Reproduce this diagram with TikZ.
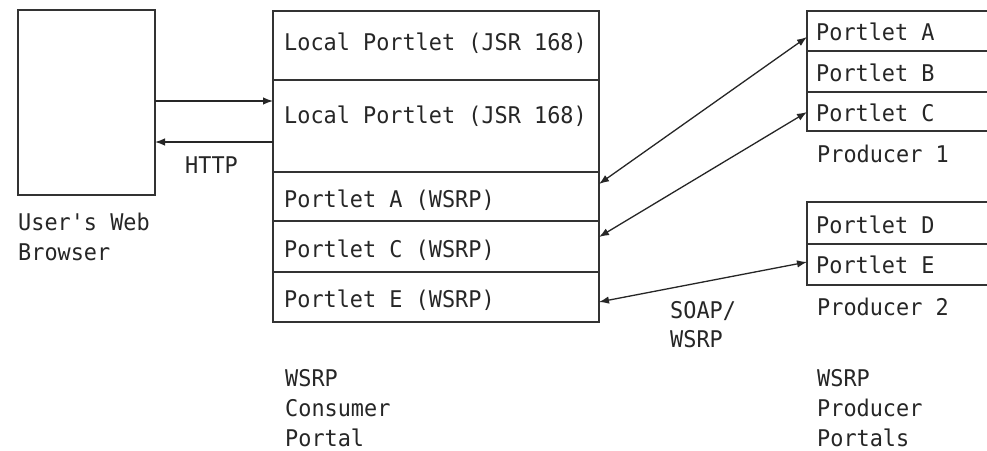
\documentclass[tikz,border=0pt]{standalone}
\usepackage{fontspec}
\newfontfamily\diagmono[FakeStretch=0.95]{DejaVu Sans Mono}
\usetikzlibrary{arrows.meta}
\begin{document}
\begin{tikzpicture}[x=1pt,y=-1pt,
  box/.style={draw=black!80,line width=1.4pt,inner sep=0pt,outer sep=0pt},
  lbl/.style={anchor=base west,inner sep=0pt,text=black!85,font=\diagmono\fontsize{23}{30}\selectfont},
  arr/.style={draw=black!85,line width=1.3pt,-{Latex[length=10pt,width=7.5pt]}},
  darr/.style={draw=black!85,line width=1.3pt,{Latex[length=10pt,width=7.5pt]}-{Latex[length=10pt,width=7.5pt]}}]
\useasboundingbox[fill=white] (0,0) rectangle (987,450);
% browser
\node[box,minimum width=137pt,minimum height=185pt,anchor=north west] (browser) at (18,10) {};
\node[lbl] (bl1) at (18,230) {User's Web};
\node[lbl] (bl2) at (18,260) {Browser};
% consumer rows
\node[box,minimum width=326pt,minimum height=69pt,anchor=north west] (lp1) at (273,11) {};
\node[box,minimum width=326pt,minimum height=92pt,anchor=north west] (lp2) at (273,80) {};
\node[box,minimum width=326pt,minimum height=49pt,anchor=north west] (ca) at (273,172) {};
\node[box,minimum width=326pt,minimum height=51pt,anchor=north west] (cc) at (273,221) {};
\node[box,minimum width=326pt,minimum height=50pt,anchor=north west] (ce) at (273,272) {};
\node[lbl] at (284,50) {Local Portlet (JSR 168)};
\node[lbl] at (284,123) {Local Portlet (JSR 168)};
\node[lbl] at (284,207) {Portlet A (WSRP)};
\node[lbl] at (284,257) {Portlet C (WSRP)};
\node[lbl] at (284,307) {Portlet E (WSRP)};
% producer 1
\node[box,minimum width=190pt,minimum height=40pt,anchor=north west] (pa) at (807,11) {};
\node[box,minimum width=190pt,minimum height=41pt,anchor=north west] (pb) at (807,51) {};
\node[box,minimum width=190pt,minimum height=39pt,anchor=north west] (pc) at (807,92) {};
\node[lbl] at (816,40) {Portlet A};
\node[lbl] at (816,81) {Portlet B};
\node[lbl] at (816,121) {Portlet C};
\node[lbl] at (817,162) {Producer 1};
% producer 2
\node[box,minimum width=190pt,minimum height=42pt,anchor=north west] (pd) at (807,202) {};
\node[box,minimum width=190pt,minimum height=41pt,anchor=north west] (pe) at (807,244) {};
\node[lbl] at (816,233) {Portlet D};
\node[lbl] at (816,273) {Portlet E};
\node[lbl] at (817,315) {Producer 2};
% HTTP arrows
\draw[arr] (browser.east |- 0,101) -- (lp2.west |- 0,101);
\draw[arr] (lp2.west |- 0,142) -- (browser.east |- 0,142);
\node[lbl] (http) at (185,173) {HTTP};
% SOAP arrows
\draw[darr] (ca.east |- 0,184) -- (pa.west |- 0,37);
\draw[darr] (cc.east |- 0,237) -- (pc.west |- 0,112);
\draw[darr] (ce.east |- 0,302) -- (pe.west |- 0,262);
\node[lbl] (soap1) at (670,318) {SOAP/};
\node[lbl] (soap2) at (670,347) {WSRP};
% bottom labels
\node[lbl] at (285,386) {WSRP};
\node[lbl] at (285,416) {Consumer};
\node[lbl] at (285,446) {Portal};
\node[lbl] at (817,386) {WSRP};
\node[lbl] at (817,416) {Producer};
\node[lbl] at (817,446) {Portals};
\end{tikzpicture}
\end{document}
